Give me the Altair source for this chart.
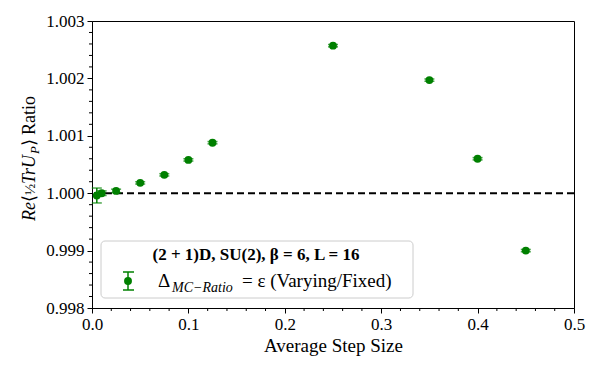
import altair as alt
import pandas as pd

# ---- data ----
step_size = [0.005, 0.01, 0.025, 0.05, 0.075, 0.1, 0.125, 0.25, 0.35, 0.4, 0.45]
ratio = [0.99996, 1.00000, 1.00004, 1.00018, 1.00032, 1.00058, 1.00088, 1.00257, 1.00197, 1.00060, 0.99900]
ratio_err = [0.00013, 0.00004, 0.00003, 0.00002, 0.00002, 0.00002, 0.00002, 0.00002, 0.00002, 0.00002, 0.00002]

x_major = [0.0, 0.1, 0.2, 0.3, 0.4, 0.5]
x_minor = [0.02, 0.04, 0.06, 0.08, 0.12, 0.14, 0.16, 0.18, 0.22, 0.24, 0.26, 0.28,
           0.32, 0.34, 0.36, 0.38, 0.42, 0.44, 0.46, 0.48]
y_major = [0.998, 0.999, 1.0, 1.001, 1.002, 1.003]
y_minor = [0.9982, 0.9984, 0.9986, 0.9988, 0.9992, 0.9994, 0.9996, 0.9998,
           1.0002, 1.0004, 1.0006, 1.0008, 1.0012, 1.0014, 1.0016, 1.0018,
           1.0022, 1.0024, 1.0026, 1.0028]
ref_line = [1.0]

legend_title = "(2 + 1)D, SU(2), β = 6, L = 16"
x_title = "Average Step Size"

FONT = "Liberation Serif"
GREEN = "#008000"
W, H = 482, 287

df = pd.DataFrame({
    "x": step_size,
    "y": ratio,
    "lo": [r - e for r, e in zip(ratio, ratio_err)],
    "hi": [r + e for r, e in zip(ratio, ratio_err)],
})

xscale = alt.Scale(domain=[0, 0.5], nice=False, zero=False)
yscale = alt.Scale(domain=[0.998, 1.003], nice=False, zero=False)

x_axis = alt.Axis(
    values=x_major, title=x_title, grid=False, format=".1f", tickSize=5,
    labelFlush=False, labelPadding=3, titlePadding=4, labelOverlap=False,
)
y_axis = alt.Axis(
    values=y_major, title=None, grid=False, format=".3f", tickSize=5,
    labelFlush=False, labelPadding=3, labelOverlap=False,
)

base = alt.Chart(df)

dash = alt.Chart(pd.DataFrame({"y": ref_line})).mark_rule(
    color="black", strokeDash=[7, 4], strokeWidth=2
).encode(y=alt.Y("y:Q", scale=yscale, axis=y_axis))

bars = base.mark_rule(color=GREEN, strokeWidth=1.5).encode(
    x=alt.X("x:Q", scale=xscale, axis=x_axis),
    y=alt.Y("lo:Q", scale=yscale, axis=y_axis),
    y2="hi:Q",
)
cap_lo = base.mark_tick(orient="horizontal", size=10, thickness=1.5, color=GREEN).encode(
    x=alt.X("x:Q", scale=xscale, axis=x_axis), y=alt.Y("lo:Q", scale=yscale, axis=y_axis))
cap_hi = base.mark_tick(orient="horizontal", size=10, thickness=1.5, color=GREEN).encode(
    x=alt.X("x:Q", scale=xscale, axis=x_axis), y=alt.Y("hi:Q", scale=yscale, axis=y_axis))
points = base.mark_circle(size=62, color=GREEN, opacity=1).encode(
    x=alt.X("x:Q", scale=xscale, axis=x_axis), y=alt.Y("y:Q", scale=yscale, axis=y_axis))

# minor ticks (outside the plot, driven by the scales)
xminor = alt.Chart(pd.DataFrame({"t": x_minor})).mark_rule(color="black", strokeWidth=1).encode(
    x=alt.X("t:Q", scale=xscale, axis=x_axis), y=alt.value(H), y2=alt.value(H + 3))
yminor = alt.Chart(pd.DataFrame({"t": y_minor})).mark_rule(color="black", strokeWidth=1).encode(
    y=alt.Y("t:Q", scale=yscale, axis=y_axis), x=alt.value(0), x2=alt.value(-3))

one = pd.DataFrame({"k": [0]})


def txt(text, x, y, size=17, style="normal", weight="normal", align="left", angle=0, baseline="alphabetic"):
    return alt.Chart(one).mark_text(
        text=text, font=FONT, fontSize=size, fontStyle=style, fontWeight=weight,
        align=align, baseline=baseline, angle=angle, color="black"
    ).encode(x=alt.value(x), y=alt.value(y))


# legend box
leg_box = alt.Chart(one).mark_rect(
    fill="white", fillOpacity=0.85, stroke="#cccccc", strokeWidth=1, cornerRadius=4
).encode(x=alt.value(9), x2=alt.value(321), y=alt.value(220), y2=alt.value(277))
leg_bar = alt.Chart(one).mark_rule(color=GREEN, strokeWidth=1.5).encode(
    x=alt.value(36), y=alt.value(251), y2=alt.value(269))
leg_cap1 = alt.Chart(one).mark_rule(color=GREEN, strokeWidth=1.5).encode(
    x=alt.value(31), x2=alt.value(42), y=alt.value(251))
leg_cap2 = alt.Chart(one).mark_rule(color=GREEN, strokeWidth=1.5).encode(
    x=alt.value(31), x2=alt.value(42), y=alt.value(269))
leg_dot = alt.Chart(one).mark_circle(size=62, color=GREEN, opacity=1).encode(
    x=alt.value(36), y=alt.value(260))
leg_title = txt(legend_title, 164, 239, size=17, weight="bold", align="center")
leg_delta = txt("Δ", 66, 266, size=19)
leg_sub = txt("MC−Ratio", 80, 271, size=14, style="italic")
leg_rest = txt("= ε (Varying/Fixed)", 150, 266, size=19)

# y-axis title pieces (rotated)
YX = -57
ytitle = [
    txt("Re", YX, 200, size=18, style="italic", angle=270),
    txt("⟨", YX, 181, size=18, angle=270),
    txt("½", YX, 174, size=15, angle=270),
    txt("TrU", YX, 163, size=18, style="italic", angle=270),
    txt("P", YX + 4, 133, size=13, style="italic", angle=270),
    txt("⟩", YX, 125, size=18, angle=270),
    txt("Ratio", YX, 114, size=18, angle=270),
]

chart = alt.layer(
    dash, bars, cap_lo, cap_hi, points, xminor, yminor,
    leg_box, leg_bar, leg_cap1, leg_cap2, leg_dot, leg_title, leg_delta, leg_sub, leg_rest,
    *ytitle
).properties(
    width=W, height=H,
    autosize=alt.AutoSizeParams(type="none"),
    padding={"left": 84, "top": 13, "right": 18, "bottom": 54},
).configure_view(
    stroke="black", strokeWidth=1
).configure_axis(
    domainColor="black", tickColor="black", labelColor="black", titleColor="black",
    labelFont=FONT, titleFont=FONT, labelFontSize=17, titleFontSize=19,
    titleFontWeight="normal", domainWidth=1, tickWidth=1,
)

chart.save("out.html", embed_options={"renderer": "svg", "actions": False})
